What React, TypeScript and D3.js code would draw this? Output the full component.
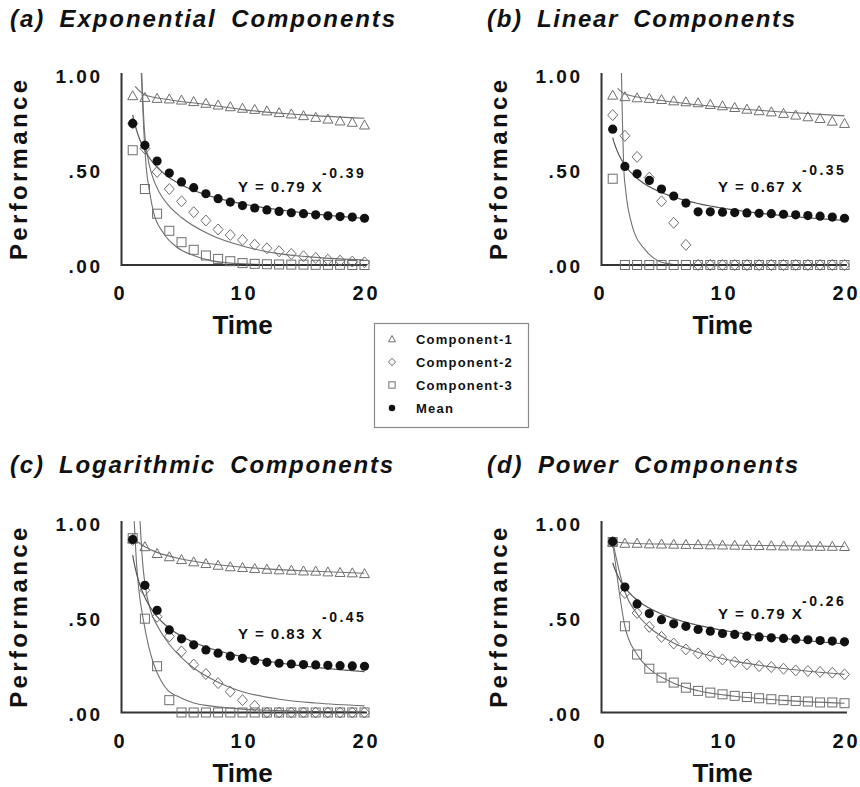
import React from 'react';
import * as d3 from 'd3';

// trials 1..20
const times = d3.range(1, 21);

// (a) exponential components
const expC1 = [0.891, 0.882, 0.877, 0.874, 0.868, 0.86, 0.851, 0.842, 0.833, 0.825, 0.819, 0.811, 0.802, 0.795, 0.786, 0.777, 0.768, 0.758, 0.751, 0.737];
const expC2 = [0.745, 0.613, 0.49, 0.4, 0.335, 0.278, 0.234, 0.187, 0.158, 0.132, 0.107, 0.088, 0.072, 0.058, 0.046, 0.037, 0.028, 0.023, 0.018, 0.014];
const expC3 = [0.604, 0.4, 0.27, 0.18, 0.12, 0.08, 0.05, 0.032, 0.02, 0.01, 0.006, 0.004, 0.003, 0.002, 0.002, 0.001, 0.001, 0.001, 0, 0];
const expMean = [0.745, 0.63, 0.547, 0.484, 0.437, 0.407, 0.375, 0.349, 0.331, 0.313, 0.3, 0.29, 0.282, 0.275, 0.27, 0.264, 0.259, 0.255, 0.252, 0.246];
const expFit1 = [[1.2, 0.94], [2, 0.895], [4, 0.87], [7, 0.845], [10, 0.818], [15, 0.79], [20, 0.772]];
const expFit2 = [[1.74, 1.01], [1.95, 0.72], [2.2, 0.58], [2.6, 0.47], [3.2, 0.38], [3.9, 0.316], [5, 0.25], [7.4, 0.158], [10, 0.1], [12.8, 0.061], [16, 0.04], [20, 0.026]];
const expFit3 = [[1.7, 1.01], [1.9, 0.72], [2.1, 0.52], [2.4, 0.38], [2.7, 0.28], [3.5, 0.17], [4.6, 0.095], [6, 0.05], [7.4, 0.023], [10, 0.006], [14, 0.001], [20, 0]];
const expEq = { a: 0.79, b: 0.39 };

// (b) linear components
const linC1 = [0.894, 0.886, 0.88, 0.877, 0.871, 0.864, 0.859, 0.854, 0.845, 0.838, 0.829, 0.82, 0.812, 0.806, 0.798, 0.789, 0.78, 0.771, 0.757, 0.745];
const linC2 = [0.789, 0.68, 0.569, 0.46, 0.335, 0.222, 0.106, 0, 0, 0, 0, 0, 0, 0, 0, 0, 0, 0, 0, 0];
const linC3 = [0.454, 0, 0, 0, 0, 0, 0, 0, 0, 0, 0, 0, 0, 0, 0, 0, 0, 0, 0, 0];
const linMean = [0.715, 0.519, 0.48, 0.445, 0.4, 0.363, 0.326, 0.28, 0.28, 0.278, 0.276, 0.274, 0.272, 0.27, 0.267, 0.264, 0.26, 0.257, 0.252, 0.246];
const linFit1 = [[1.4, 0.93], [2, 0.9], [4, 0.875], [7, 0.85], [10, 0.83], [15, 0.805], [20, 0.785]];
const linFit3 = [[1.72, 1.01], [1.8, 0.75], [1.9, 0.52], [2.05, 0.4], [2.23, 0.31], [2.5, 0.23], [2.77, 0.17], [3.6, 0.085], [4.7, 0.023], [6, 0.003]];
const linEq = { a: 0.67, b: 0.35 };

// (c) logarithmic components
const logC1 = [0.915, 0.875, 0.839, 0.822, 0.807, 0.795, 0.786, 0.777, 0.769, 0.765, 0.76, 0.756, 0.753, 0.751, 0.747, 0.746, 0.742, 0.739, 0.737, 0.733];
const logC2 = [0.91, 0.645, 0.505, 0.401, 0.322, 0.253, 0.203, 0.155, 0.11, 0.065, 0.035, 0, 0, 0, 0, 0, 0, 0, 0, 0];
const logC3 = [0.92, 0.495, 0.244, 0.065, 0, 0, 0, 0, 0, 0, 0, 0, 0, 0, 0, 0, 0, 0, 0, 0];
const logMean = [0.913, 0.671, 0.539, 0.436, 0.389, 0.357, 0.33, 0.313, 0.297, 0.286, 0.274, 0.265, 0.26, 0.256, 0.253, 0.251, 0.249, 0.247, 0.246, 0.244];
const logFit1 = [[1.3, 0.905], [2, 0.875], [3, 0.845], [5, 0.81], [8, 0.78], [12, 0.758], [16, 0.745], [20, 0.735]];
const logFit2 = [[1.6, 1.01], [1.8, 0.8], [2, 0.68], [2.5, 0.53], [3, 0.46], [4, 0.36], [5, 0.29], [6, 0.235], [8, 0.16], [10, 0.11], [13, 0.07], [16, 0.05], [20, 0.035]];
const logFit3 = [[1.12, 1.01], [1.3, 0.8], [1.5, 0.65], [1.87, 0.49], [2.3, 0.35], [2.7, 0.26], [3.3, 0.17], [3.9, 0.115], [4.6, 0.088], [6, 0.05], [7.3, 0.035], [10, 0.018], [14, 0.008], [20, 0.003]];
const logEq = { a: 0.83, b: 0.45 };

// (d) power components
const powC1 = [0.9, 0.893, 0.893, 0.89, 0.889, 0.888, 0.887, 0.886, 0.885, 0.884, 0.883, 0.882, 0.881, 0.88, 0.879, 0.879, 0.878, 0.877, 0.877, 0.876];
const powC2 = [0.9, 0.63, 0.525, 0.452, 0.399, 0.364, 0.333, 0.312, 0.298, 0.28, 0.266, 0.254, 0.245, 0.24, 0.231, 0.222, 0.219, 0.214, 0.21, 0.201];
const powC3 = [0.9, 0.455, 0.306, 0.231, 0.184, 0.158, 0.131, 0.114, 0.105, 0.096, 0.088, 0.082, 0.075, 0.07, 0.065, 0.061, 0.058, 0.053, 0.053, 0.049];
const powMean = [0.902, 0.662, 0.573, 0.522, 0.49, 0.468, 0.455, 0.438, 0.429, 0.417, 0.412, 0.403, 0.399, 0.394, 0.391, 0.387, 0.384, 0.38, 0.377, 0.373];
const powFit1 = [[1, 0.9], [3, 0.892], [6, 0.888], [10, 0.884], [15, 0.88], [20, 0.876]];
const powFit2 = [[1, 0.9], [2, 0.636], [3, 0.52], [4, 0.45], [6, 0.367], [8, 0.318], [11, 0.271], [15, 0.232], [20, 0.201]];
const powFit3 = [[1, 0.9], [2, 0.455], [3, 0.306], [4, 0.231], [6, 0.155], [8, 0.115], [11, 0.086], [15, 0.064], [20, 0.049]];
const powEq = { a: 0.79, b: 0.26 };

const xTicks = [0, 10, 20];
const yTicks = [1, 0.5, 0];
const yTickLabels = ['1.00', '.50', '.00'];
const legendLabels = ['Component-1', 'Component-2', 'Component-3', 'Mean'];

const panels = [
  { title: '(a) Exponential Components', c1: expC1, c2: expC2, c3: expC3, mean: expMean, fits: [expFit1, expFit2, expFit3], eq: expEq },
  { title: '(b) Linear Components', c1: linC1, c2: linC2, c3: linC3, mean: linMean, fits: [linFit1, linFit3], eq: linEq },
  { title: '(c) Logarithmic Components', c1: logC1, c2: logC2, c3: logC3, mean: logMean, fits: [logFit1, logFit2, logFit3], eq: logEq },
  { title: '(d) Power Components', c1: powC1, c2: powC2, c3: powC3, mean: powMean, fits: [powFit1, powFit2, powFit3], eq: powEq },
];

// placement of each panel on the page
const layout = [
  { x0: 120.5, x20: 364.5, yTop: 75, yZero: 265, titleX: 10, titleY: 27, titleLen: 385, eqAt: [9.63, 0.384], supDy: -14 },
  { x0: 600.5, x20: 844.5, yTop: 75, yZero: 265, titleX: 487, titleY: 27, titleLen: 308, eqAt: [9.63, 0.384], supDy: -17 },
  { x0: 120.5, x20: 364.5, yTop: 523, yZero: 712.5, titleX: 10, titleY: 473, titleLen: 383, eqAt: [9.63, 0.39], supDy: -17 },
  { x0: 600.5, x20: 844.5, yTop: 523, yZero: 712.5, titleX: 487, titleY: 473, titleLen: 311, eqAt: [9.63, 0.495], supDy: -13 },
];

const FONT = '"Liberation Sans", Arial, sans-serif';
const MARK = '#6e6e6e';
const LINE = '#707070';

const Marker = ({ kind, x, y, s = 1 }: { kind: string; x: number; y: number; s?: number }) => {
  if (kind === 'tri')
    return <path d={`M${x},${y - 5 * s}L${x + 5 * s},${y + 4 * s}L${x - 5 * s},${y + 4 * s}Z`} fill="none" stroke={MARK} strokeWidth={1} />;
  if (kind === 'dia')
    return <path d={`M${x},${y - 5.5 * s}L${x + 5 * s},${y}L${x},${y + 5.5 * s}L${x - 5 * s},${y}Z`} fill="none" stroke={MARK} strokeWidth={1} />;
  if (kind === 'sq')
    return <rect x={x - 4.5 * s} y={y - 4.5 * s} width={9 * s} height={9 * s} fill="none" stroke={MARK} strokeWidth={1} />;
  return <circle cx={x} cy={y} r={4.6 * s} fill="#111" />;
};

const Panel = ({ p, l, i }: { p: any; l: any; i: number }) => {
  const x = d3.scaleLinear().domain([0, 20]).range([l.x0, l.x20]);
  const y = d3.scaleLinear().domain([0, 1]).range([l.yZero, l.yTop]);
  const fitLine = d3.line<number[]>().x(d => x(d[0])).y(d => y(d[1])).curve(d3.curveMonotoneX);
  // fitted mean curve Y = a X^-b, as printed in the panel
  const eqPts = d3.range(1, 20.001, 0.1).map(t => [t, p.eq.a * Math.pow(t, -p.eq.b)]);
  const meanLine = d3.line<number[]>().x(d => x(d[0])).y(d => y(d[1]));
  const clipId = `clip${i}`;
  const ax = l.x0 + 1;
  const mid = (l.yTop + l.yZero) / 2;
  const ex = x(l.eqAt[0]);
  const ey = y(l.eqAt[1]);
  return (
    <g>
      <defs>
        <clipPath id={clipId}>
          <rect x={ax} y={y(1.01)} width={x(20.6) - ax} height={y(-0.03) - y(1.01)} />
        </clipPath>
      </defs>
      <text x={l.titleX} y={l.titleY} fontFamily={FONT} fontSize={24} fontWeight="bold" fontStyle="italic"
        wordSpacing={6} textLength={l.titleLen} lengthAdjust="spacing" fill="#111">{p.title}</text>
      <text transform={`translate(${l.x0 - 94},${mid}) rotate(-90)`} textAnchor="middle" fontFamily={FONT}
        fontSize={24} fontWeight="bold" textLength={180} lengthAdjust="spacing" fill="#111">Performance</text>
      {yTicks.map((t, k) => (
        <text key={k} x={l.x0 - 18} y={y(t) + 8} textAnchor="end" fontFamily={FONT} fontSize={19}
          fontWeight="bold" letterSpacing={2.5} fill="#111">{yTickLabels[k]}</text>
      ))}
      {xTicks.map(t => (
        <text key={t} x={x(t) + (t === 0 ? 0 : 2)} y={l.yZero + 35} textAnchor="middle" fontFamily={FONT} fontSize={20}
          fontWeight="bold" letterSpacing={3} fill="#111">{t}</text>
      ))}
      <text x={x(10)} y={l.yZero + 69} textAnchor="middle" fontFamily={FONT} fontSize={26} fontWeight="bold" fill="#111">Time</text>
      <g clipPath={`url(#${clipId})`}>
        {p.fits.map((f: number[][], k: number) => (
          <path key={k} d={fitLine(f) || ''} fill="none" stroke={LINE} strokeWidth={1.1} />
        ))}
        <path d={meanLine(eqPts) || ''} fill="none" stroke="#555" strokeWidth={1.2} />
      </g>
      <path d={`M${ax},${y(1.01)}V${l.yZero}H${x(20.2)}`} fill="none" stroke="#333" strokeWidth={2} />
      {times.map((t, k) => <Marker key={'a' + k} kind="tri" x={x(t)} y={y(p.c1[k])} />)}
      {times.map((t, k) => <Marker key={'b' + k} kind="dia" x={x(t)} y={y(p.c2[k])} />)}
      {times.map((t, k) => <Marker key={'c' + k} kind="sq" x={x(t)} y={y(p.c3[k])} />)}
      {times.map((t, k) => <Marker key={'d' + k} kind="dot" x={x(t)} y={y(p.mean[k])} />)}
      <text x={ex} y={ey} fontFamily={FONT} fontSize={15} fontWeight="bold" letterSpacing={1.5} fill="#111">
        {`Y = ${p.eq.a.toFixed(2)} X`}
      </text>
      <text x={ex + 84} y={ey + l.supDy} fontFamily={FONT} fontSize={14} fontWeight="bold" letterSpacing={2.5} fill="#111">
        {`-${p.eq.b.toFixed(2)}`}
      </text>
    </g>
  );
};

const Legend = () => {
  const kinds = ['tri', 'dia', 'sq', 'dot'];
  const rows = d3.scaleLinear().domain([0, 3]).range([339, 408]);
  return (
    <g>
      <rect x={374.5} y={323.5} width={154} height={104} fill="#fff" stroke="#8a8a8a" strokeWidth={1.2} />
      {legendLabels.map((name, k) => (
        <g key={name}>
          <Marker kind={kinds[k]} x={392} y={rows(k)} s={0.7} />
          <text x={416} y={rows(k) + 5} fontFamily={FONT} fontSize={13} fontWeight="bold" letterSpacing={1.2} fill="#111">{name}</text>
        </g>
      ))}
    </g>
  );
};

export default function App() {
  return (
    <svg width={860} height={787} style={{ position: 'absolute', left: 0, top: 0, background: '#fff' }}>
      {panels.map((p, i) => <Panel key={i} p={p} l={layout[i]} i={i} />)}
      <Legend />
    </svg>
  );
}
